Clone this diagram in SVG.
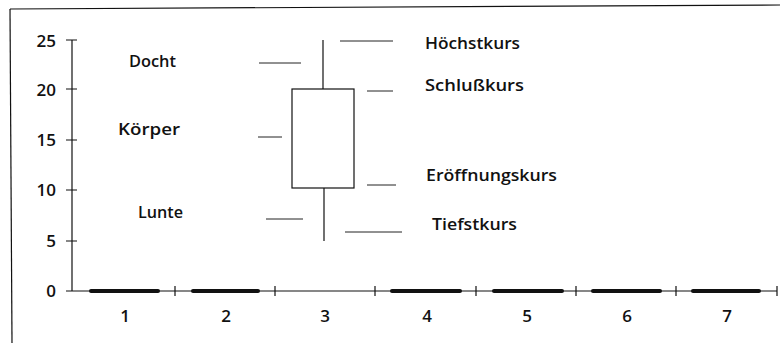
<svg xmlns="http://www.w3.org/2000/svg" width="783" height="344" viewBox="0 0 783 344">
<style>
.t{font-family:"Open Sans","Liberation Sans",sans-serif;font-size:16px;font-weight:600;fill:#111}
.n{font-family:"Open Sans","Liberation Sans",sans-serif;font-size:17px;font-weight:600;fill:#111}
.ax{stroke:#111;stroke-width:1.2;fill:none}
.ld{stroke:#222;stroke-width:1;fill:none}
.bar{stroke:#111;stroke-width:4;stroke-linecap:round}
</style>
<rect width="783" height="344" fill="#fff"/>
<g id="frame" class="ax" stroke-width="1.5">
<path d="M10 9 L780 5"/>
<path d="M10 9 L12 343"/>
</g>
<g id="y-axis">
<path class="ax" d="M72 40 V291"/>
<path class="ax" d="M66 40 H77 M66 89 H77 M66 140 H77 M66 190 H77 M66 241 H77 M66 291 H72"/>
<text class="n" x="56" y="47" text-anchor="end">25</text>
<text class="n" x="56" y="96" text-anchor="end">20</text>
<text class="n" x="56" y="146" text-anchor="end">15</text>
<text class="n" x="56" y="196" text-anchor="end">10</text>
<text class="n" x="56" y="247" text-anchor="end">5</text>
<text class="n" x="56" y="297" text-anchor="end">0</text>
</g>
<g id="x-axis">
<path class="ax" d="M72 291 H777"/>
<path class="ax" d="M175 286 V296 M275 286 V296 M375 286 V296 M476 286 V296 M576 286 V296 M676 286 V296 M777 286 V296"/>
<text class="n" x="125" y="322" text-anchor="middle">1</text>
<text class="n" x="226" y="322" text-anchor="middle">2</text>
<text class="n" x="325" y="322" text-anchor="middle">3</text>
<text class="n" x="427" y="322" text-anchor="middle">4</text>
<text class="n" x="527" y="322" text-anchor="middle">5</text>
<text class="n" x="627" y="322" text-anchor="middle">6</text>
<text class="n" x="727" y="322" text-anchor="middle">7</text>
</g>
<g id="flat-candles">
<path class="bar" d="M91 291 H158"/>
<path class="bar" d="M193 291 H258"/>
<path class="bar" d="M392 291 H460"/>
<path class="bar" d="M494 291 H562"/>
<path class="bar" d="M593 291 H660"/>
<path class="bar" d="M693 291 H759"/>
</g>
<g id="candle-3">
<path class="ax" d="M323 40 V89"/>
<rect class="ax" x="292" y="89" width="62" height="99"/>
<path class="ax" d="M324 188 V241"/>
</g>
<g id="connectors">
<path class="ld" d="M259 63 H301"/>
<path class="ld" d="M258 137 H282"/>
<path class="ld" d="M266 219 H303"/>
<path class="ld" d="M340 41 H393"/>
<path class="ld" d="M367 91 H393"/>
<path class="ld" d="M367 185 H396"/>
<path class="ld" d="M345 232 H402"/>
</g>
<g id="label-docht"><text class="t" x="129" y="67" textLength="47" lengthAdjust="spacingAndGlyphs">Docht</text></g>
<g id="label-koerper"><text class="t" x="118" y="135" textLength="62" lengthAdjust="spacingAndGlyphs">Körper</text></g>
<g id="label-lunte"><text class="t" x="138" y="218" textLength="45" lengthAdjust="spacingAndGlyphs">Lunte</text></g>
<g id="label-hoechstkurs"><text class="t" x="425" y="49" textLength="95" lengthAdjust="spacingAndGlyphs">Höchstkurs</text></g>
<g id="label-schlusskurs"><text class="t" x="425" y="91" textLength="99" lengthAdjust="spacingAndGlyphs">Schlußkurs</text></g>
<g id="label-eroeffnungskurs"><text class="t" x="426" y="181" textLength="131" lengthAdjust="spacingAndGlyphs">Eröffnungskurs</text></g>
<g id="label-tiefstkurs"><text class="t" x="432" y="230" textLength="85" lengthAdjust="spacingAndGlyphs">Tiefstkurs</text></g>
</svg>
